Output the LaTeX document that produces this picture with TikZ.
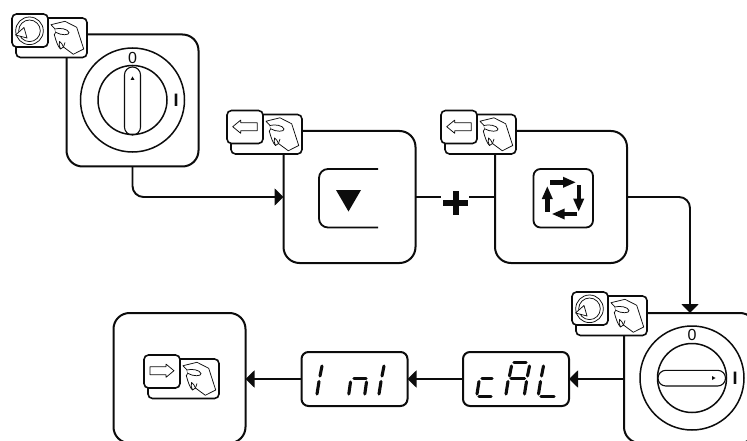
\documentclass[tikz,border=0pt]{standalone}
\usepackage{fontspec}
\setmainfont{Liberation Sans}
\usetikzlibrary{arrows.meta}
\definecolor{ink}{HTML}{0c0c0c}
\tikzset{
  panel/.style={draw=ink,line width=2pt,rounded corners=16pt,minimum width=132pt,minimum height=132pt,inner sep=0pt,outer sep=0pt,fill=white},
  readout/.style={draw=ink,line width=2pt,rounded corners=7pt,minimum width=106pt,minimum height=54pt,inner sep=0pt,outer sep=0pt},
  conn/.style={draw=ink,line width=1.9pt,rounded corners=11pt},
  flow/.style={conn,-{Triangle[length=9pt,width=17pt]}},
  keyface/.style={draw=ink,line width=1.6pt,rounded corners=4.5pt,fill=white},
  thin/.style={draw=ink,line width=.75pt,line join=round},
  ring/.style={draw=ink,line width=1.5pt},
  seg/.style={draw=ink,line width=3.1pt,line cap=round},
  cyc/.style={draw=ink,line width=4.4pt,-{Triangle[length=13pt,width=10pt]}},
  dialnum/.style={inner sep=0pt,text=ink}
}
\newcommand{\handicon}{%
  \draw[thin,fill=white] (35,6.7) -- (49,3.3) -- (60.7,9.3) -- (67.7,31) -- (57.3,36.3) -- (47.5,29) -- (44.5,31) .. controls (42,29) and (40,23) .. (38.3,16.7) -- (39.7,14.3) -- (39,11) -- cycle;
  \draw[thin,fill=white] (39,11) .. controls (44,9.5) and (52,11) .. (53,14.5) .. controls (53.5,17.5) and (45,17.5) .. (39.7,14.3);
  \draw[thin] (47.5,29) .. controls (46.5,26) and (45,24.5) .. (43.5,23.5) .. controls (42.5,26) and (43.5,29) .. (44.5,31);
  \draw[thin] (47.5,29) -- (49,24.5);
}
\newcommand{\badge}[3]{%
  \begin{scope}[shift={(#1,#2)}]
    \draw[keyface] (4,4) rectangle (75,43.5);
    \begin{scope}[shift={(4,4)}]\handicon\end{scope}
    \draw[keyface] (0,0) rectangle (36,33);
    #3
  \end{scope}}
\newcommand{\turnicon}{%
  \draw[thin] (17.5,16.8) circle[radius=13.8];
  \draw[thin] (17.5,16.8) circle[radius=10.8];
  \draw[thin,fill=white] (3.5,21) -- (12,13.5) -- (15,24) -- cycle;
}
\newcommand{\backicon}{%
  \draw[thin] (5.7,16.2) -- (13.7,9.6) -- (13.7,12.2) -- (30.3,12.2) -- (30.3,20.2) -- (13.7,20.2) -- (13.7,22.8) -- cycle;
}
\newcommand{\fwdicon}{%
  \draw[thin] (30,15.7) -- (22,9.1) -- (22,11.7) -- (6,11.7) -- (6,19.7) -- (22,19.7) -- (22,22.3) -- cycle;
}
\begin{document}
\begin{tikzpicture}[x=1pt,y=-1pt]
\useasboundingbox (0,0) rectangle (747,441);
% panels
\node[panel] (dialA) at (132.5,100.5) {};
\node[panel] (down) at (349.5,197) {};
\node[panel] (cycle) at (561,197) {};
\node[panel,minimum height=130pt] (dialB) at (690,378) {};
\node[panel,minimum height=130pt] (done) at (179.5,378) {};
\node[readout] (cal) at (516,379) {};
\node[readout] (ini) at (354.5,379) {};
\coordinate (plusL) at (441,197);
\coordinate (plusR) at (469,197);
% connectors
\draw[flow] (dialA.south) |- (down.west);
\draw[conn] (down.east) -- (plusL);
\draw[conn] (plusR) -- (cycle.west);
\draw[flow] (cycle.east) -| (dialB.north);
\draw[flow] (dialB.west |- cal.east) -- (cal.east);
\draw[flow] (cal.west) -- (ini.east);
\draw[flow] (ini.west) -- (done.east |- ini.west);
% plus
\fill[ink] (443,199.8) rectangle (468,205.8);
\fill[ink] (452.5,190.5) rectangle (458.5,215);
% dial A
\draw[ring] (132.5,100) circle[radius=52];
\draw[ring] (132.5,100) circle[radius=34.5];
\draw[ink,line width=1.1pt,rounded corners=7.9pt] (124.5,67) rectangle (140.5,135);
\fill[ink] (130.5,80) -- (134.5,80) -- (132.5,76.5) -- cycle;
\node[dialnum,font=\fontsize{16}{16}\selectfont] (a0) at (132.5,57.5) {0};
\node[dialnum,font=\bfseries\fontsize{18}{18}\selectfont] (a1) at (176,100.5) {I};
% down key
\draw[ink,line width=1.8pt,rounded corners=9pt] (378,169) -- (319,169) -- (319,227.5) -- (378,227.5);
\fill[ink] (336,190) -- (361,190) -- (348.5,211.5) -- cycle;
% cycle key
\draw[ink,line width=1.8pt,rounded corners=7pt] (533.5,169) rectangle (593,227.5);
\draw[cyc] (550,182.3) -- (576,182.3);
\draw[cyc] (578.7,185) -- (578.7,211.7);
\draw[cyc] (577.3,214) -- (551.7,214);
\draw[cyc] (547.3,211.7) -- (547.3,186);
% dial B
\draw[ring] (692,378) circle[radius=52];
\draw[ring] (692,378) circle[radius=34.5];
\draw[ink,line width=1.1pt,rounded corners=7.8pt] (658,370.3) rectangle (725.5,386);
\fill[ink] (712,376) -- (712,380) -- (715.5,378) -- cycle;
\node[dialnum,font=\fontsize{16}{16}\selectfont] (b0) at (692,334.5) {0};
\node[dialnum,font=\bfseries\fontsize{18}{18}\selectfont] (b1) at (735,378.5) {I};
% badges
\badge{12}{14}{\turnicon}
\badge{227}{110.5}{\backicon}
\badge{441}{110.5}{\backicon}
\badge{572}{292}{\turnicon}
\badge{144}{355}{\fwdicon}
% cAL
\draw[seg] (482,378.3) -- (492,378.3);
\draw[seg] (479,381.5) -- (477,394);
\draw[seg] (479,396.3) -- (491,396.3);
\draw[seg] (514,362.5) -- (526,362.5);
\draw[seg] (511.5,366) -- (509.5,376);
\draw[seg] (529.5,366) -- (527.5,376);
\draw[seg] (511,378.5) -- (524.5,378.5);
\draw[seg] (508,381.5) -- (506,394);
\draw[seg] (526.5,381.5) -- (524.5,394);
\draw[seg] (543.5,366) -- (541.5,376);
\draw[seg] (540.5,381.5) -- (538.5,394);
\draw[seg] (541,396.3) -- (554,396.3);
% Ini
\draw[seg] (322,366) -- (320,376);
\draw[seg] (319,381.5) -- (317,394);
\draw[seg] (354,378.5) -- (366,378.5);
\draw[seg] (350.5,382) -- (348.8,394);
\draw[seg] (366.5,382) -- (364.8,394);
\draw[seg] (384,366) -- (382,376);
\draw[seg] (381,381.5) -- (379,394);
\end{tikzpicture}
\end{document}
